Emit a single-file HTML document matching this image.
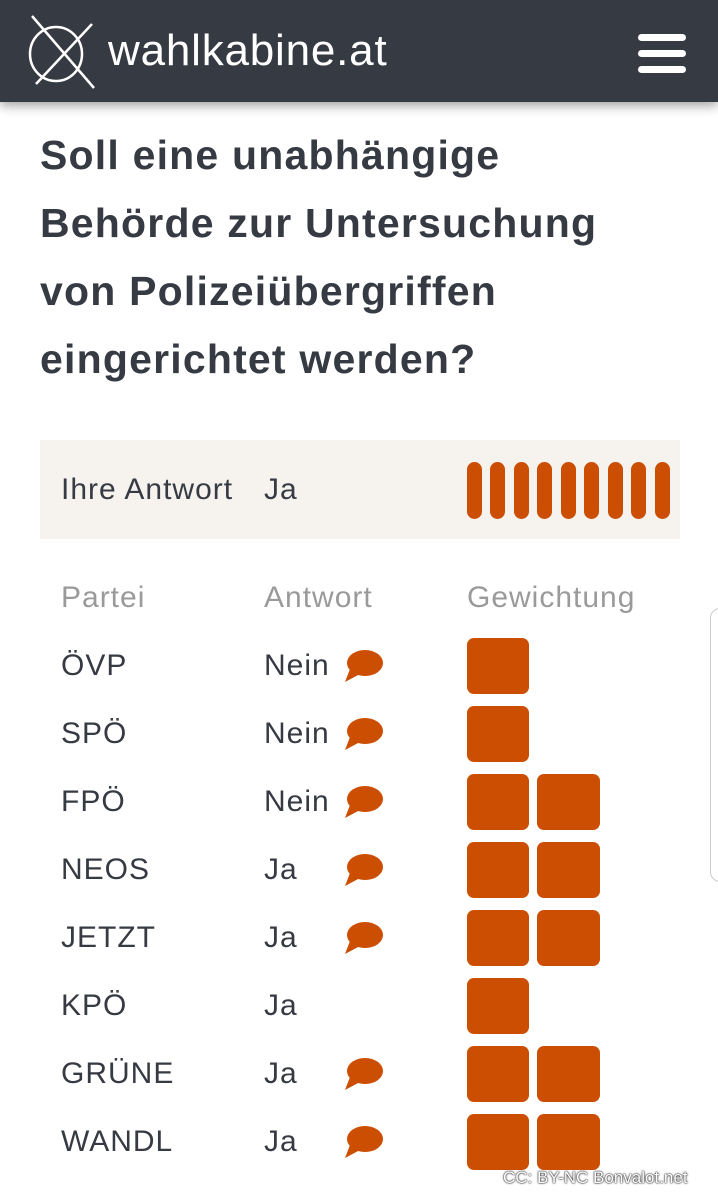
<!DOCTYPE html>
<html><head><meta charset="utf-8"><style>
body{margin:0;width:718px;height:1196px;background:#fff;font-family:"Liberation Sans",sans-serif;position:relative;overflow:hidden;color:#363a42}
.hdr{position:absolute;left:0;top:0;width:718px;height:102px;background:#363a42;box-shadow:0 4px 10px rgba(0,0,0,.35)}
.logo{position:absolute;left:108px;top:26px;color:#fff;font-size:44px;font-weight:normal;letter-spacing:0.8px}
.burger div{position:absolute;left:638px;width:48px;height:7px;border-radius:4px;background:#fff}
h1{position:absolute;left:40px;top:121px;margin:0;font-size:41px;letter-spacing:1.2px;line-height:68px;font-weight:bold;color:#363a42;width:670px}
.ans{position:absolute;left:40px;top:440px;width:640px;height:99px;background:#f6f3ef}
.t{position:absolute;font-size:30px;letter-spacing:1px;color:#363a42}
.g{color:#9a9a9a}
.pill{position:absolute;top:462px;width:15px;height:57px;border-radius:8px;background:#cc4e02}
.sq{position:absolute;width:62px;height:56px;border-radius:7px;background:#cc4e02}
.wm{position:absolute;left:503px;top:1168px;font-size:17px;color:#fff;text-shadow:0 0 2px #000,0 0 1px #000}
</style></head><body>
<div class="hdr">
<svg style="position:absolute;left:28px;top:14px" width="70" height="76" viewBox="0 0 70 76"><ellipse cx="28" cy="40" rx="26" ry="27" fill="none" stroke="#fff" stroke-width="2.5"/><line x1="4" y1="2" x2="66" y2="74" stroke="#fff" stroke-width="2.5"/><line x1="64" y1="10" x2="8" y2="70" stroke="#fff" stroke-width="2.5"/></svg>
<div class="logo">wahlkabine.at</div>
<div class="burger"><div style="top:34px"></div><div style="top:50px"></div><div style="top:66px"></div></div>
</div>
<h1>Soll eine unabhängige<br>Behörde zur Untersuchung<br>von Polizeiübergriffen<br>eingerichtet werden?</h1>
<div class="ans"></div>
<div class="t" style="left:61px;top:473px">Ihre Antwort</div>
<div class="t" style="left:264px;top:473px">Ja</div>
<div class="pill" style="left:467px"></div><div class="pill" style="left:490px"></div><div class="pill" style="left:514px"></div><div class="pill" style="left:537px"></div><div class="pill" style="left:561px"></div><div class="pill" style="left:584px"></div><div class="pill" style="left:608px"></div><div class="pill" style="left:631px"></div><div class="pill" style="left:655px"></div>
<div class="t g" style="left:61px;top:581px">Partei</div>
<div class="t g" style="left:264px;top:581px">Antwort</div>
<div class="t g" style="left:467px;top:581px">Gewichtung</div>
<div style="position:absolute;left:710px;top:608px;width:20px;height:272px;border:1px solid #ccc;border-radius:10px"></div>
<div id="rows"></div>
<script>
var d=[["ÖVP","Nein",1,1],["SPÖ","Nein",1,1],["FPÖ","Nein",1,2],["NEOS","Ja",1,2],["JETZT","Ja",1,2],["KPÖ","Ja",0,1],["GRÜNE","Ja",1,2],["WANDL","Ja",1,2]];
var h="";d.forEach(function(r,i){var y=638+i*68;
h+='<div class="t" style="left:61px;top:'+(y+11)+'px">'+r[0]+'</div><div class="t" style="left:264px;top:'+(y+11)+'px">'+r[1]+'</div>';
if(r[2])h+='<svg style="position:absolute;left:344px;top:'+(y+11)+'px" width="40" height="34" viewBox="0 0 40 34"><ellipse cx="21" cy="14" rx="18" ry="13" fill="#cc4e02"/><path d="M6 20 L1 33 L16 25Z" fill="#cc4e02"/></svg>';
h+='<div class="sq" style="left:467px;top:'+y+'px"></div>';
if(r[3]==2)h+='<div class="sq" style="left:537px;top:'+y+'px;width:63px"></div>';});
document.getElementById("rows").innerHTML=h;
</script>
<div class="wm">CC: BY-NC Bonvalot.net</div>
</body></html>
